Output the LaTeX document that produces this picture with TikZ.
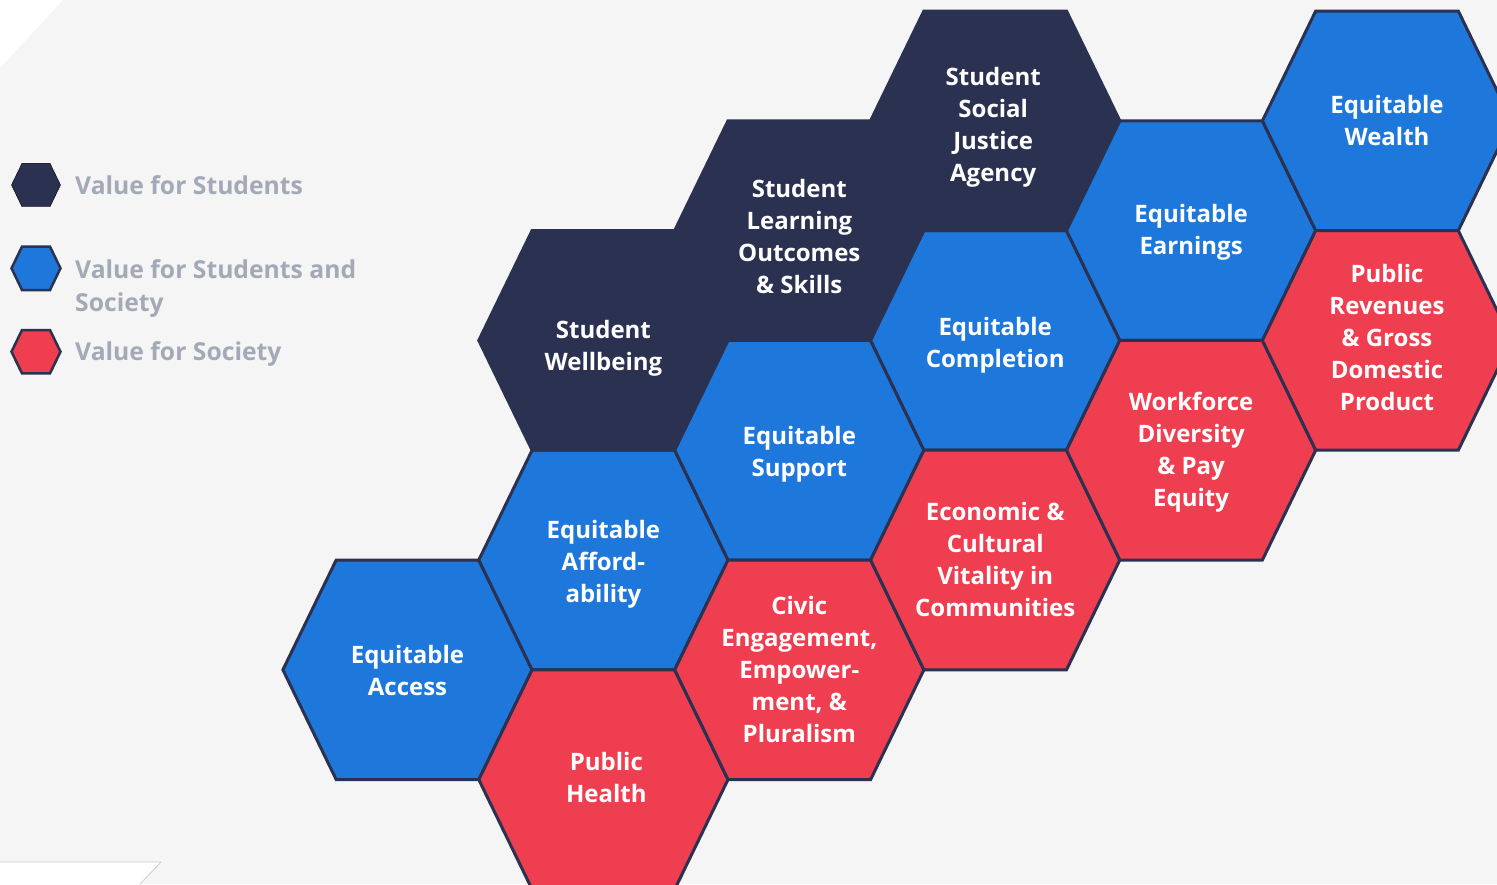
\documentclass[tikz,border=0pt]{standalone}
\usepackage{fontspec}
\setmainfont{Open Sans}
\definecolor{bgc}{HTML}{F5F5F5}
\definecolor{navy}{HTML}{2B3150}
\definecolor{hblue}{HTML}{1E78DC}
\definecolor{hred}{HTML}{EF3E50}
\definecolor{lgrey}{HTML}{A3A9B6}
\tikzset{
  hexdark/.style={fill=navy,draw=navy,line width=3pt,line join=miter},
  hexblue/.style={fill=hblue,draw=navy,line width=3pt,line join=miter},
  hexred/.style={fill=hred,draw=navy,line width=3pt,line join=miter},
  hextext/.style={text=white,align=center,inner sep=0pt,font=\fontsize{24}{32}\selectfont\bfseries},
  legtext/.style={text=lgrey,align=left,anchor=base west,inner sep=0pt,font=\fontsize{24.7}{33}\selectfont\bfseries},
}
\newcommand\hexcell[7]{%
  \filldraw[#4] (#2-124.6,#3) -- (#2-71.3,#3-109.8) -- (#2+71.3,#3-109.8) -- (#2+124.6,#3) -- (#2+71.3,#3+109.8) -- (#2-71.3,#3+109.8) -- cycle;
  \node[hextext] (#1) at (#2+#6,#3+#7) {#5};}
\newcommand\leghex[3]{%
  \filldraw[#3] (#1-24.5,#2) -- (#1-14,#2-21.7) -- (#1+14,#2-21.7) -- (#1+24.5,#2) -- (#1+14,#2+21.7) -- (#1-14,#2+21.7) -- cycle;}
\begin{document}
\begin{tikzpicture}[x=1pt,y=-1pt]
\fill[bgc] (0,0) rectangle (1497,884);
\useasboundingbox (0,0) rectangle (1497,884);
\clip (0,0) rectangle (1497,884);
% corner decorations
\fill[white] (0,0) -- (63,0) -- (0,68) -- cycle;
\fill[white] (0,862) -- (161,862) -- (140,884) -- (0,884) -- cycle;
\draw[black!20,line width=0.8pt] (0,862) -- (161,862) -- (140,884);
% legend
\leghex{36}{185}{fill=navy}
\leghex{36}{268.3}{fill=hblue,draw=navy,line width=2.5pt}
\leghex{36}{351.7}{fill=hred,draw=navy,line width=2.5pt}
\node[legtext] (l1) at (75,194.3) {Value for Students};
\node[legtext] (l2) at (75,311) {Value for Students and\\Society};
\node[legtext] (l3) at (75,360) {Value for Society};
% hexagons
\hexcell{access}{407.5}{669.8}{hexblue}{Equitable\\Access}{0}{1}
\hexcell{afford}{603.4}{560}{hexblue}{Equitable\\Afford-\\ability}{0}{4}
\hexcell{health}{603.4}{779.6}{hexred}{Public\\Health}{3}{-2}
\hexcell{wellbeing}{603.4}{340.4}{hexdark}{Student\\Wellbeing}{0}{8}
\hexcell{support}{799.3}{450.2}{hexblue}{Equitable\\Support}{0}{4}
\hexcell{civic}{799.3}{669.8}{hexred}{Civic\\Engagement,\\Empower-\\ment, \&\\Pluralism}{0}{0}
\hexcell{learning}{799.3}{230.6}{hexdark}{Student\\Learning\\Outcomes\\\& Skills}{0}{6}
\hexcell{completion}{995.2}{340.4}{hexblue}{Equitable\\Completion}{0}{5}
\hexcell{economic}{995.2}{560}{hexred}{Economic \&\\Cultural\\Vitality in\\Communities}{0}{-1}
\hexcell{justice}{995.2}{120.8}{hexdark}{Student\\Social\\Justice\\Agency}{-2}{6}
\hexcell{earnings}{1191.1}{230.6}{hexblue}{Equitable\\Earnings}{0}{2}
\hexcell{workforce}{1191.1}{450.2}{hexred}{Workforce\\Diversity\\\& Pay\\Equity}{0}{2}
\hexcell{wealth}{1387}{120.8}{hexblue}{Equitable\\Wealth}{0}{0}
\hexcell{revenues}{1387}{340.4}{hexred}{Public\\Revenues\\\& Gross\\Domestic\\Product}{0}{-3}
\end{tikzpicture}
\end{document}
